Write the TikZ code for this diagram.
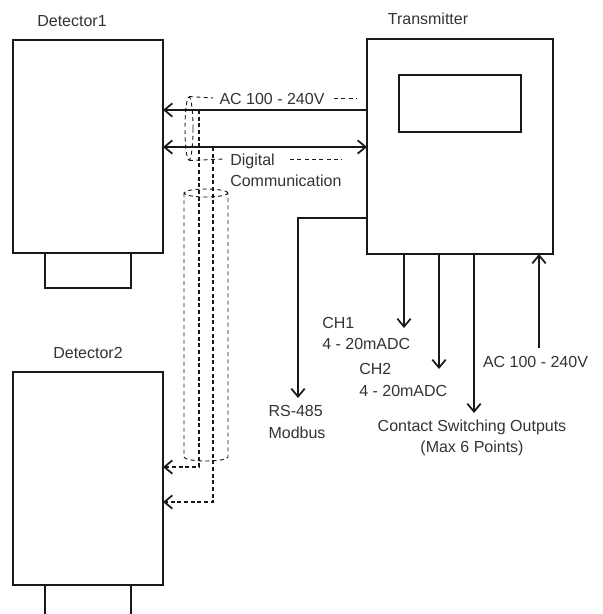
\documentclass[tikz,border=0pt]{standalone}
\usepackage{fontspec}
\setmainfont{Liberation Sans}
\usetikzlibrary{arrows.meta,shapes.geometric}
\tikzset{
    box/.style={draw=black!90, line width=1.3pt, inner sep=0pt},
    lbl/.style={text=black!80, font=\fontsize{12}{16}\selectfont, inner sep=0pt},
    wire/.style={draw=black!90, line width=1.3pt},
    arr/.style={wire, -{Straight Barb[length=6pt,width=10pt]}},
    sig/.style={draw=black!90, line width=1.3pt, dash pattern=on 3pt off 2pt, -{Straight Barb[length=6pt,width=10pt]}},
    hint/.style={draw=black!90, line width=0.7pt, dash pattern=on 3pt off 2.5pt},
}

\begin{document}
\begin{tikzpicture}[x=0.75pt,y=-0.75pt]
        \useasboundingbox (0,0) rectangle (603,614);
        %boxes
            \node[box, minimum width=112.5pt, minimum height=159.75pt] (det1) at (88,146.5) {};
            \node[box, minimum width=64.5pt, minimum height=26.25pt] (foot1) at (88,270.5) {};
            \node[box, minimum width=112.5pt, minimum height=159.75pt] (det2) at (88,478.5) {};
            \draw[wire] (45,614) -- (45,585) -- (131,585) -- (131,614);
            \node[box, minimum width=139.5pt, minimum height=161.25pt] (tx) at (460,146.5) {};
            \node[box, minimum width=91.5pt, minimum height=42.75pt] (disp) at (460,103.5) {};
        %nodes
            \node[lbl] (det1lbl) at (72,21) {Detector1};
            \node[lbl] (txlbl) at (428,19) {Transmitter};
            \node[lbl] (det2lbl) at (88,353) {Detector2};
            \node[lbl] (acout) at (272,99) {AC 100 - 240V};
            \node[lbl, align=left, anchor=west] (dclbl) at (230,170.5) {Digital\\Communication};
            \node[lbl, align=left] (rslbl) at (297,422) {RS-485\\Modbus};
            \node[lbl, align=left, anchor=west] (ch1lbl) at (322,333.5) {CH1\\4 - 20mADC};
            \node[lbl, align=left, anchor=west] (ch2lbl) at (359,380) {CH2\\4 - 20mADC};
            \node[lbl, align=center] (cslbl) at (472,438) {Contact Switching Outputs\\(Max 6 Points)};
            \node[lbl] (acin) at (535.5,362) {AC 100 - 240V};
        % power and communication lines
            \coordinate (acA) at (367,110);
            \coordinate (acB) at (163,110);
            \coordinate (dcA) at (367,147);
            \coordinate (dcB) at (163,147);
            \draw[arr] (acA) -- (acB);
            \draw[wire, {Straight Barb[length=6pt,width=10pt]}-{Straight Barb[length=6pt,width=10pt]}] (dcB) -- (dcA);
        % lines to detector2
            \coordinate (s1) at (199,110);
            \coordinate (s1b) at (199,467);
            \coordinate (s1e) at (163,467);
            \coordinate (s2) at (213,147);
            \coordinate (s2b) at (213,502);
            \coordinate (s2e) at (163,502);
            \draw[sig] (s1) -- (s1b) -- (s1e);
            \draw[sig] (s2) -- (s2b) -- (s2e);
        % cable
            \node[hint, ellipse, inner sep=0pt, minimum width=6pt, minimum height=47.25pt] (loop) at (189,128.5) {};
            \draw[hint] (206,193) ellipse [x radius=16.5pt, y radius=3pt];
            \draw[hint] (184,193) -- (184,457) arc [start angle=180, end angle=360, x radius=16.5pt, y radius=3pt] -- (228,193);
        % label leaders
            \coordinate (aq0) at (213,98);
            \coordinate (aq1) at (334,98);
            \coordinate (aq2) at (357,98);
            \coordinate (dq0) at (225,159);
            \coordinate (dq1) at (290,159);
            \coordinate (dq2) at (342,159);
            \draw[hint] (loop.north) -- (aq0);
            \draw[hint] (aq1) -- (aq2);
            \draw[hint] (loop.south) -- (dq0);
            \draw[hint] (dq1) -- (dq2);
        % outputs of transmitter
            \coordinate (rs0) at (367,218);
            \coordinate (rs1) at (298,398);
            \draw[arr] (rs0) -| (rs1);
            \coordinate (c1a) at (404,253);
            \coordinate (c1b) at (404,328);
            \draw[arr] (c1a) -- (c1b);
            \coordinate (c2a) at (439,253);
            \coordinate (c2b) at (439,369);
            \draw[arr] (c2a) -- (c2b);
            \coordinate (csa) at (474,253);
            \coordinate (csb) at (474,413);
            \draw[arr] (csa) -- (csb);
            \coordinate (aia) at (539,348);
            \coordinate (aib) at (539,254);
            \draw[arr] (aia) -- (aib);
\end{tikzpicture}
\end{document}
